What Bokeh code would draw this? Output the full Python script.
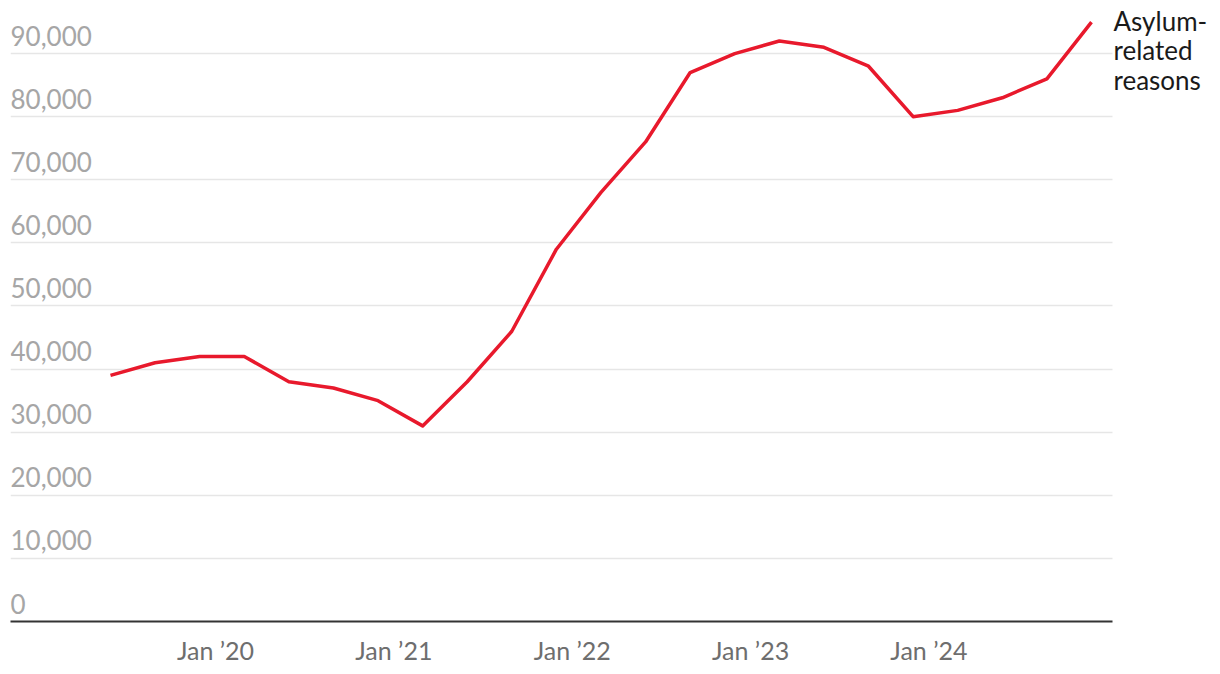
from bokeh.plotting import figure
from bokeh.models import FixedTicker, Range1d, Label, ColumnDataSource
from bokeh.core.properties import value
from bokeh.embed import file_html
from bokeh.resources import INLINE

# quarterly points (index), values in people
quarters = list(range(23))
asylum = [39000, 41000, 42000, 42000, 38000, 37000, 35000, 31000, 38000, 46000,
          59000, 68000, 76000, 87000, 90000, 92000, 91000, 88000, 80000, 81000,
          83000, 86000, 95000]
x_tick_pos = [2.355, 6.355, 10.355, 14.355, 18.355]
x_tick_labels = ["Jan \u201920", "Jan \u201921", "Jan \u201922", "Jan \u201923", "Jan \u201924"]
y_ticks = [0, 10000, 20000, 30000, 40000, 50000, 60000, 70000, 80000, 90000]
y_tick_labels = ["0", "10,000", "20,000", "30,000", "40,000", "50,000",
                 "60,000", "70,000", "80,000", "90,000"]
series_label = "Asylum-\nrelated\nreasons"

FONT = "Lato"
X_START, X_END = -2.2426, 24.714
PLOT_END = 22.471

p = figure(width=1220, height=668, output_backend="svg", toolbar_location=None,
           x_range=Range1d(X_START, X_END), y_range=Range1d(0, 98415),
           min_border_left=10, min_border_right=8, min_border_top=0,
           min_border_bottom=47)
p.outline_line_color = None
p.background_fill_color = "white"
p.border_fill_color = "white"

# grid
p.xgrid.visible = False
yg = p.ygrid[0]
yg.ticker = FixedTicker(ticks=y_ticks[1:])
yg.grid_line_color = "#e6e6e6"
yg.grid_line_width = 1.5
yg.cross_bounds = (X_START, PLOT_END)

# axes
p.yaxis.visible = False
xa = p.xaxis[0]
xa.ticker = FixedTicker(ticks=x_tick_pos)
xa.bounds = (X_START, PLOT_END)
xa.major_label_overrides = {t: l for t, l in zip(x_tick_pos, x_tick_labels)}
xa.major_tick_line_color = None
xa.minor_tick_line_color = None
xa.axis_line_color = "#333333"
xa.axis_line_width = 2
xa.major_label_text_font = FONT
xa.major_label_text_font_size = "25px"
xa.major_label_text_color = "#6e6e6e"
xa.major_label_standoff = 7

# y labels sitting above gridlines
src = ColumnDataSource(dict(x=[X_START] * len(y_ticks), y=y_ticks, t=y_tick_labels))
p.text(x="x", y="y", text="t", source=src, text_font=value(FONT),
       text_font_size="26px", text_color="#a6a6a6", text_align="left",
       text_baseline="bottom", y_offset=-8)

# series line
p.line(quarters, asylum, line_color="#e8192c", line_width=3.5, line_join="round")

lab = Label(x=quarters[-1], y=asylum[-1], text=series_label, x_offset=22, y_offset=17,
            text_font=FONT, text_font_size="26px", text_color="#1a1a1a",
            text_align="left", text_baseline="top", text_line_height=0.92)
p.add_layout(lab)

open("out.html", "w").write(file_html(p, INLINE))
